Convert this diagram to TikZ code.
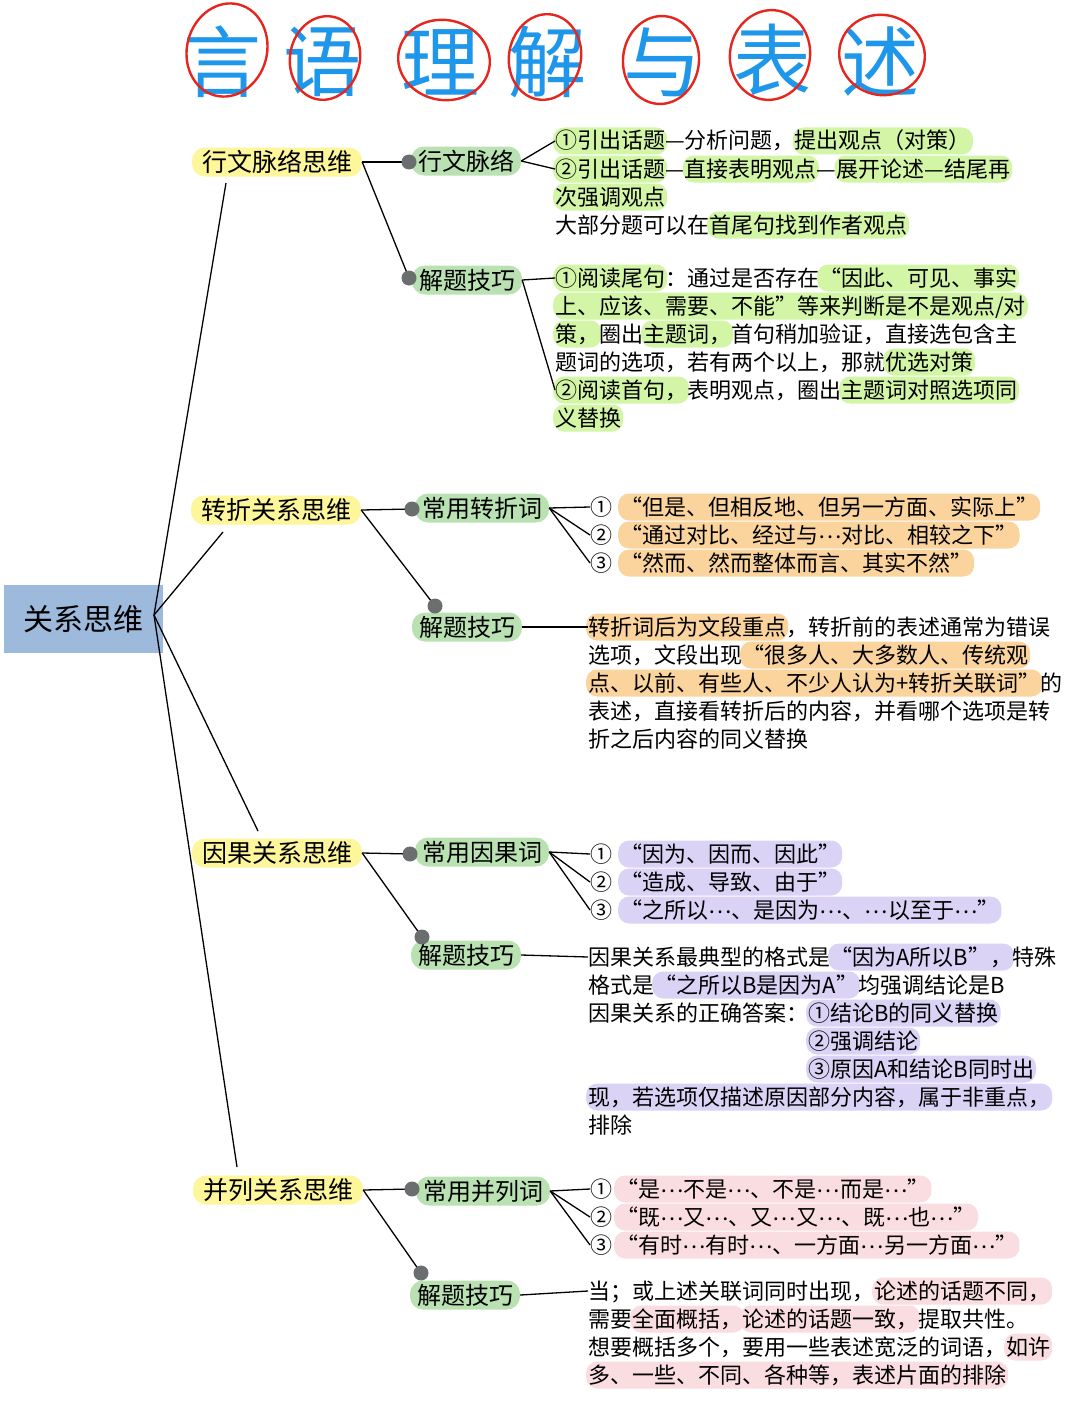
\documentclass[tikz,border=0pt]{standalone}
\usepackage{fontspec}
\setmainfont{Noto Sans CJK SC}
\newfontfamily\cjk{Noto Sans CJK SC}
\usetikzlibrary{calc}
\definecolor{rootc}{HTML}{9DB9DB}
\definecolor{yelc}{HTML}{FDF69A}
\definecolor{grnc}{HTML}{B9E1B2}
\definecolor{dotc}{HTML}{6A6E6E}
\definecolor{hg}{HTML}{D3F5A6}
\definecolor{ho}{HTML}{FAD49C}
\definecolor{hp}{HTML}{DAD3F6}
\definecolor{hk}{HTML}{FADDE1}
\definecolor{tblue}{HTML}{1E97EA}
\definecolor{tred}{HTML}{E5261F}
\tikzset{
  rootbox/.style={fill=rootc, minimum width=159pt, minimum height=68pt, inner sep=0pt, font=\cjk\fontsize{30}{34}\selectfont},
  lvone/.style={fill=yelc, rounded corners=13pt, inner xsep=10pt, inner ysep=0pt, minimum height=29pt, font=\cjk\fontsize{25}{28}\selectfont},
  lvtwo/.style={fill=grnc, rounded corners=13pt, inner xsep=7pt, inner ysep=0pt, minimum height=29pt, font=\cjk\fontsize{24}{28}\selectfont},
  dotnode/.style={circle, fill=dotc, minimum size=15pt, inner sep=0pt},
  conn/.style={draw=black, line width=1.3pt},
  txt/.style={anchor=base west, inner sep=0pt, font=\cjk\fontsize{22}{28}\selectfont},
  titlech/.style={text=tblue, inner sep=0pt, font=\cjk\fontsize{78}{90}\selectfont},
  ring/.style={draw=tred, line width=2.4pt},
}
\newcommand\hlt[2]{\kern-2pt\tikz[baseline=(hlx.base)]\node[fill=#1, draw=none, rounded corners=11pt, inner xsep=2pt, inner ysep=1.5pt, outer sep=0pt, anchor=base, text=black] (hlx) {\rule[-4pt]{0pt}{24pt}#2};\kern-2pt}
\newcommand\dts{\raisebox{5pt}{…}}
\begin{document}
\begin{tikzpicture}[x=1pt,y=-1pt]
\useasboundingbox (0,0) rectangle (1080,1418);
\fill[white] (0,0) rectangle (1080,1418);
% title
\node[titlech] (ti1) at (222,62) {言};
\node[titlech] (ti2) at (322,62) {语};
\node[titlech] (ti3) at (440,62) {理};
\node[titlech] (ti4) at (547,62) {解};
\node[titlech] (ti5) at (662,62) {与};
\node[titlech] (ti6) at (772,60) {表};
\node[titlech] (ti7) at (880,62) {述};
\draw[ring, rotate around={-15:(227,50)}] (227,50) ellipse [x radius=40, y radius=47];
\draw[ring, rotate around={-10:(325,58)}] (325,58) ellipse [x radius=35, y radius=42];
\draw[ring, rotate around={-10:(444,60)}] (444,60) ellipse [x radius=46, y radius=40];
\draw[ring, rotate around={-10:(545,57)}] (545,57) ellipse [x radius=36, y radius=43];
\draw[ring, rotate around={-5:(661,60)}] (661,60) ellipse [x radius=38, y radius=44];
\draw[ring, rotate around={-10:(770,55)}] (770,55) ellipse [x radius=40, y radius=45];
\draw[ring, rotate around={-15:(882,55)}] (882,55) ellipse [x radius=43, y radius=40];
% root
\node[rootbox] (root) at (83.5,619) {关系思维};
\coordinate (rj) at (154,615);
% level one
\node[lvone] (y1) at (277,162) {行文脉络思维};
\node[lvone] (y2) at (276,510) {转折关系思维};
\node[lvone] (y3) at (277,853) {因果关系思维};
\node[lvone] (y4) at (278,1190) {并列关系思维};
\coordinate (e1) at (226,183);
\coordinate (e2) at (223,532);
\coordinate (e3) at (258,831);
\coordinate (e4) at (237,1167);
% level two
\node[lvtwo] (g11) at (466,161) {行文脉络};
\node[lvtwo] (g12) at (467,280) {解题技巧};
\node[lvtwo] (g21) at (482,508) {常用转折词};
\node[lvtwo] (g22) at (467,627) {解题技巧};
\node[lvtwo] (g31) at (482,852) {常用因果词};
\node[lvtwo] (g32) at (466,955) {解题技巧};
\node[lvtwo] (g41) at (483,1191) {常用并列词};
\node[lvtwo] (g42) at (465,1295) {解题技巧};
% section 1 texts
\node[txt] (t11) at (555,149) {\hlt{hg}{①引出话题}—分析问题，\hlt{hg}{提出观点（对策）}};
\node[txt] (t12) at (555,177) {\hlt{hg}{②引出话题}—\hlt{hg}{直接表明观点}—\hlt{hg}{展开论述—结尾再}};
\node[txt] (t13) at (555,205) {\hlt{hg}{次强调观点}};
\node[txt] (t14) at (555,233) {大部分题可以在\hlt{hg}{首尾句找到作者观点}};
\node[txt] (t15) at (555,286) {\hlt{hg}{①阅读尾句}：通过是否存在\hlt{hg}{“因此、可见、事实}};
\node[txt] (t16) at (555,314) {\hlt{hg}{上、应该、需要、不能”等来判断是不是观点/对}};
\node[txt] (t17) at (555,342) {\hlt{hg}{策，}圈出\hlt{hg}{主题词，}首句稍加验证，直接选包含主};
\node[txt] (t18) at (555,370) {题词的选项，若有两个以上，那就\hlt{hg}{优选对策}};
\node[txt] (t19) at (555,398) {\hlt{hg}{②阅读首句，}表明观点，圈出\hlt{hg}{主题词对照选项同}};
\node[txt] (t1a) at (555,426) {\hlt{hg}{义替换}};
% section 2 texts
\node[txt] (t21) at (590,515) {①\hspace{8pt}\hlt{ho}{“但是、但相反地、但另一方面、实际上”}};
\node[txt] (t22) at (590,543) {②\hspace{8pt}\hlt{ho}{“通过对比、经过与\dts 对比、相较之下”}};
\node[txt] (t23) at (590,571) {③\hspace{8pt}\hlt{ho}{“然而、然而整体而言、其实不然”}};
\node[txt] (t24) at (588,635) {\hlt{ho}{转折词后为文段重点}，转折前的表述通常为错误};
\node[txt] (t25) at (588,663) {选项，文段出现\hlt{ho}{“很多人、大多数人、传统观}};
\node[txt] (t26) at (588,691) {\hlt{ho}{点、以前、有些人、不少人认为+转折关联词”}的};
\node[txt] (t27) at (588,719) {表述，直接看转折后的内容，并看哪个选项是转};
\node[txt] (t28) at (588,747) {折之后内容的同义替换};
% section 3 texts
\node[txt] (t31) at (590,862) {①\hspace{8pt}\hlt{hp}{“因为、因而、因此”}};
\node[txt] (t32) at (590,890) {②\hspace{8pt}\hlt{hp}{“造成、导致、由于”}};
\node[txt] (t33) at (590,918) {③\hspace{8pt}\hlt{hp}{“之所以\dts 、是因为\dts 、\dts 以至于\dts ”}};
\node[txt] (t34) at (588,965) {因果关系最典型的格式是\hlt{hp}{“因为A所以B”，}特殊};
\node[txt] (t35) at (588,993) {格式是\hlt{hp}{“之所以B是因为A”}均强调结论是B};
\node[txt] (t36) at (588,1021) {因果关系的正确答案：\hlt{hp}{①结论B的同义替换}};
\node[txt] (t37) at (808,1049) {\hlt{hp}{②强调结论}};
\node[txt] (t38) at (808,1077) {\hlt{hp}{③原因A和结论B同时出}};
\node[txt] (t39) at (588,1105) {\hlt{hp}{现，若选项仅描述原因部分内容，属于非重点，}};
\node[txt] (t3a) at (588,1133) {排除};
% section 4 texts
\node[txt] (t41) at (590,1197) {①\hspace{4pt}\hlt{hk}{“是\dts 不是\dts 、不是\dts 而是\dts ”}};
\node[txt] (t42) at (590,1225) {②\hspace{4pt}\hlt{hk}{“既\dts 又\dts 、又\dts 又\dts 、既\dts 也\dts ”}};
\node[txt] (t43) at (590,1253) {③\hspace{4pt}\hlt{hk}{“有时\dts 有时\dts 、一方面\dts 另一方面\dts ”}};
\node[txt] (t44) at (588,1299) {当；或上述关联词同时出现，\hlt{hk}{论述的话题不同，}};
\node[txt] (t45) at (588,1327) {需要\hlt{hk}{全面概括，}\hlt{hk}{论述的话题一致，}提取共性。};
\node[txt] (t46) at (588,1355) {想要概括多个，要用一些表述宽泛的词语，\hlt{hk}{如许}};
\node[txt] (t47) at (588,1383) {\hlt{hk}{多、一些、不同、各种等，表述片面的排除}};
% dots
\coordinate (d11) at (409,162);
\coordinate (d12) at (409,278);
\coordinate (d21) at (412,509);
\coordinate (d22) at (435,606);
\coordinate (d31) at (410,854);
\coordinate (d32) at (422,937);
\coordinate (d41) at (412,1189);
\coordinate (d42) at (421,1273);
% connectors
\draw[conn] (rj) -- (e1);
\draw[conn] (rj) -- (e2);
\draw[conn] (rj) -- (e3);
\draw[conn] (rj) -- (e4);
\draw[conn] (y1.east) -- (d11);
\draw[conn] (y1.east) -- (d12);
\draw[conn] (y2.east) -- (d21);
\draw[conn] (y2.east) -- (d22);
\draw[conn] (y3.east) -- (d31);
\draw[conn] (y3.east) -- (d32);
\draw[conn] (y4.east) -- (d41);
\draw[conn] (y4.east) -- (d42);
\draw[conn] (g11.east) -- (t11.west);
\draw[conn] (g11.east) -- (t12.west);
\draw[conn] (g12.east) -- (t15.west);
\draw[conn] (g12.east) -- (t19.west);
\draw[conn] (g21.east) -- (t21.west);
\draw[conn] (g21.east) -- (t22.west);
\draw[conn] (g21.east) -- (t23.west);
\draw[conn] (g22.east) -- (t24.west);
\draw[conn] (g31.east) -- (t31.west);
\draw[conn] (g31.east) -- (t32.west);
\draw[conn] (g31.east) -- (t33.west);
\draw[conn] (g32.east) -- (t34.west);
\draw[conn] (g41.east) -- (t41.west);
\draw[conn] (g41.east) -- (t42.west);
\draw[conn] (g41.east) -- (t43.west);
\draw[conn] (g42.east) -- (t44.west);
\foreach \d in {d11,d12,d21,d22,d31,d32,d41,d42}
  \node[dotnode] (n\d) at (\d) {};
\end{tikzpicture}
\end{document}
